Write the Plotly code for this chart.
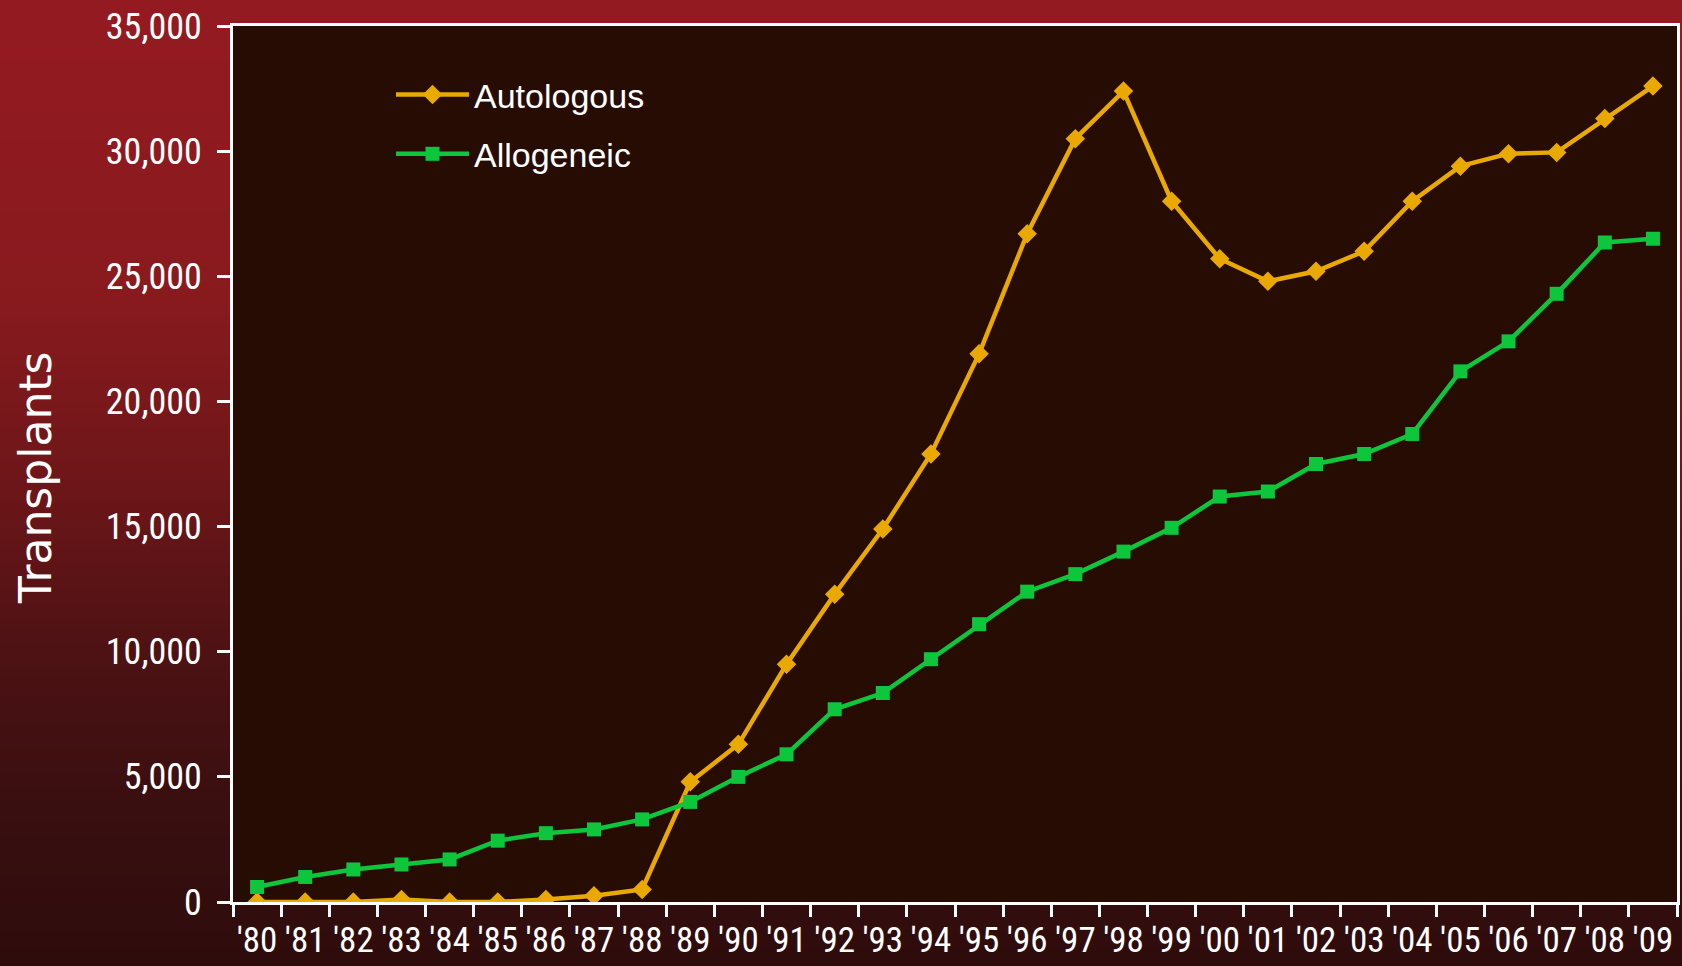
import plotly.graph_objects as go

years = ["'80", "'81", "'82", "'83", "'84", "'85", "'86", "'87", "'88", "'89",
         "'90", "'91", "'92", "'93", "'94", "'95", "'96", "'97", "'98", "'99",
         "'00", "'01", "'02", "'03", "'04", "'05", "'06", "'07", "'08", "'09"]

autologous = [0, 0, 0, 100, 0, 0, 100, 250, 500, 4800,
              6300, 9500, 12300, 14900, 17900, 21900, 26700, 30500, 32400, 28000,
              25700, 24800, 25200, 26000, 28000, 29400, 29900, 29950, 31300, 32600]

allogeneic = [600, 1000, 1300, 1500, 1700, 2450, 2750, 2900, 3300, 4000,
              5000, 5900, 7700, 8350, 9700, 11100, 12400, 13100, 14000, 14950,
              16200, 16400, 17500, 17900, 18700, 21200, 22400, 24300, 26350, 26500]

y_ticks = [0, 5000, 10000, 15000, 20000, 25000, 30000, 35000]

W, H = 1682, 966
ML, MR, MT, MB = 233, 5, 26, 64
PW, PH = W - ML - MR, H - MT - MB

ORANGE = "#e9a900"
GREEN = "#0ec63b"
PLOT_BG = "rgb(38,12,3)"
NARROW = "Liberation Sans Narrow, Arial Narrow, Roboto Condensed, Liberation Sans, sans-serif"

fig = go.Figure()
fig.add_trace(go.Scatter(
    x=years, y=autologous, name="Autologous", mode="lines+markers",
    line=dict(color=ORANGE, width=4.5),
    marker=dict(symbol="diamond", size=15, color=ORANGE),
    legendgroup="a",
))
fig.add_trace(go.Scatter(
    x=years, y=allogeneic, name="Allogeneic", mode="lines+markers",
    line=dict(color=GREEN, width=4.5),
    marker=dict(symbol="square", size=14, color=GREEN),
    legendgroup="b",
))

# background vertical gradient (pixel stops)
stops = [(0, (148, 26, 33)), (300, (136, 26, 30)), (480, (110, 22, 25)),
         (650, (78, 18, 20)), (800, (58, 15, 16)), (966, (46, 12, 12))]


def col_at(p):
    for (p0, c0), (p1, c1) in zip(stops[:-1], stops[1:]):
        if p0 <= p <= p1:
            t = (p - p0) / (p1 - p0)
            return "rgb(%d,%d,%d)" % tuple(round(a + (b - a) * t) for a, b in zip(c0, c1))
    return "rgb(%d,%d,%d)" % stops[-1][1]


shapes = []
step = 6
for p in range(0, H, step):
    y0 = (H - MB - p) / PH
    y1 = (H - MB - (p + step + 1)) / PH
    shapes.append(dict(type="rect", xref="paper", yref="paper",
                       x0=-ML / PW - 0.01, x1=1 + MR / PW + 0.01, y0=y1, y1=y0,
                       fillcolor=col_at(p + step / 2), line=dict(width=0), layer="below"))
shapes.append(dict(type="rect", xref="paper", yref="paper", x0=0, x1=1, y0=0, y1=1,
                   fillcolor=PLOT_BG, line=dict(width=0), layer="below"))

fig.update_layout(
    width=W, height=H,
    margin=dict(l=ML, r=MR, t=MT, b=MB, pad=0, autoexpand=False),
    paper_bgcolor="rgb(90,20,22)",
    plot_bgcolor=PLOT_BG,
    shapes=shapes,
    showlegend=True,
    legend=dict(
        x=(391 - ML) / PW, y=(H - MB - 66) / PH, xanchor="left", yanchor="top",
        bgcolor="rgba(0,0,0,0)", font=dict(family="Liberation Sans, Arial, sans-serif",
                                           size=34, color="white"),
        itemwidth=73, tracegroupgap=12, traceorder="grouped",
    ),
    xaxis=dict(
        type="category", range=[-0.5, len(years) - 0.5], automargin=False,
        tickson="boundaries", ticks="outside", ticklen=12, tickwidth=2.5, tickcolor="white",
        showline=True, linecolor="white", linewidth=3, mirror=True,
        showgrid=False, zeroline=False, tickangle=0, ticklabelstandoff=5,
        tickfont=dict(family=NARROW, size=35, color="white"),
    ),
    yaxis=dict(
        range=[0, 35000], tickvals=y_ticks, tickformat=",", automargin=False,
        ticks="outside", ticklen=13, tickwidth=2.5, tickcolor="white",
        showline=True, linecolor="white", linewidth=3, mirror=True,
        showgrid=False, zeroline=False, ticklabelstandoff=8,
        tickfont=dict(family=NARROW, size=36, color="white"),
    ),
    annotations=[dict(
        text="Transplants", textangle=-90, showarrow=False,
        xref="paper", yref="paper", x=(35 - ML) / PW, y=(H - MB - 478) / PH,
        xanchor="center", yanchor="middle",
        font=dict(family="DejaVu Sans, Verdana, sans-serif", size=44, color="white"),
    )],
)

fig.write_html("out.html", config={"displayModeBar": False},
               post_script="document.body.style.margin='0';document.body.style.overflow='hidden';")
